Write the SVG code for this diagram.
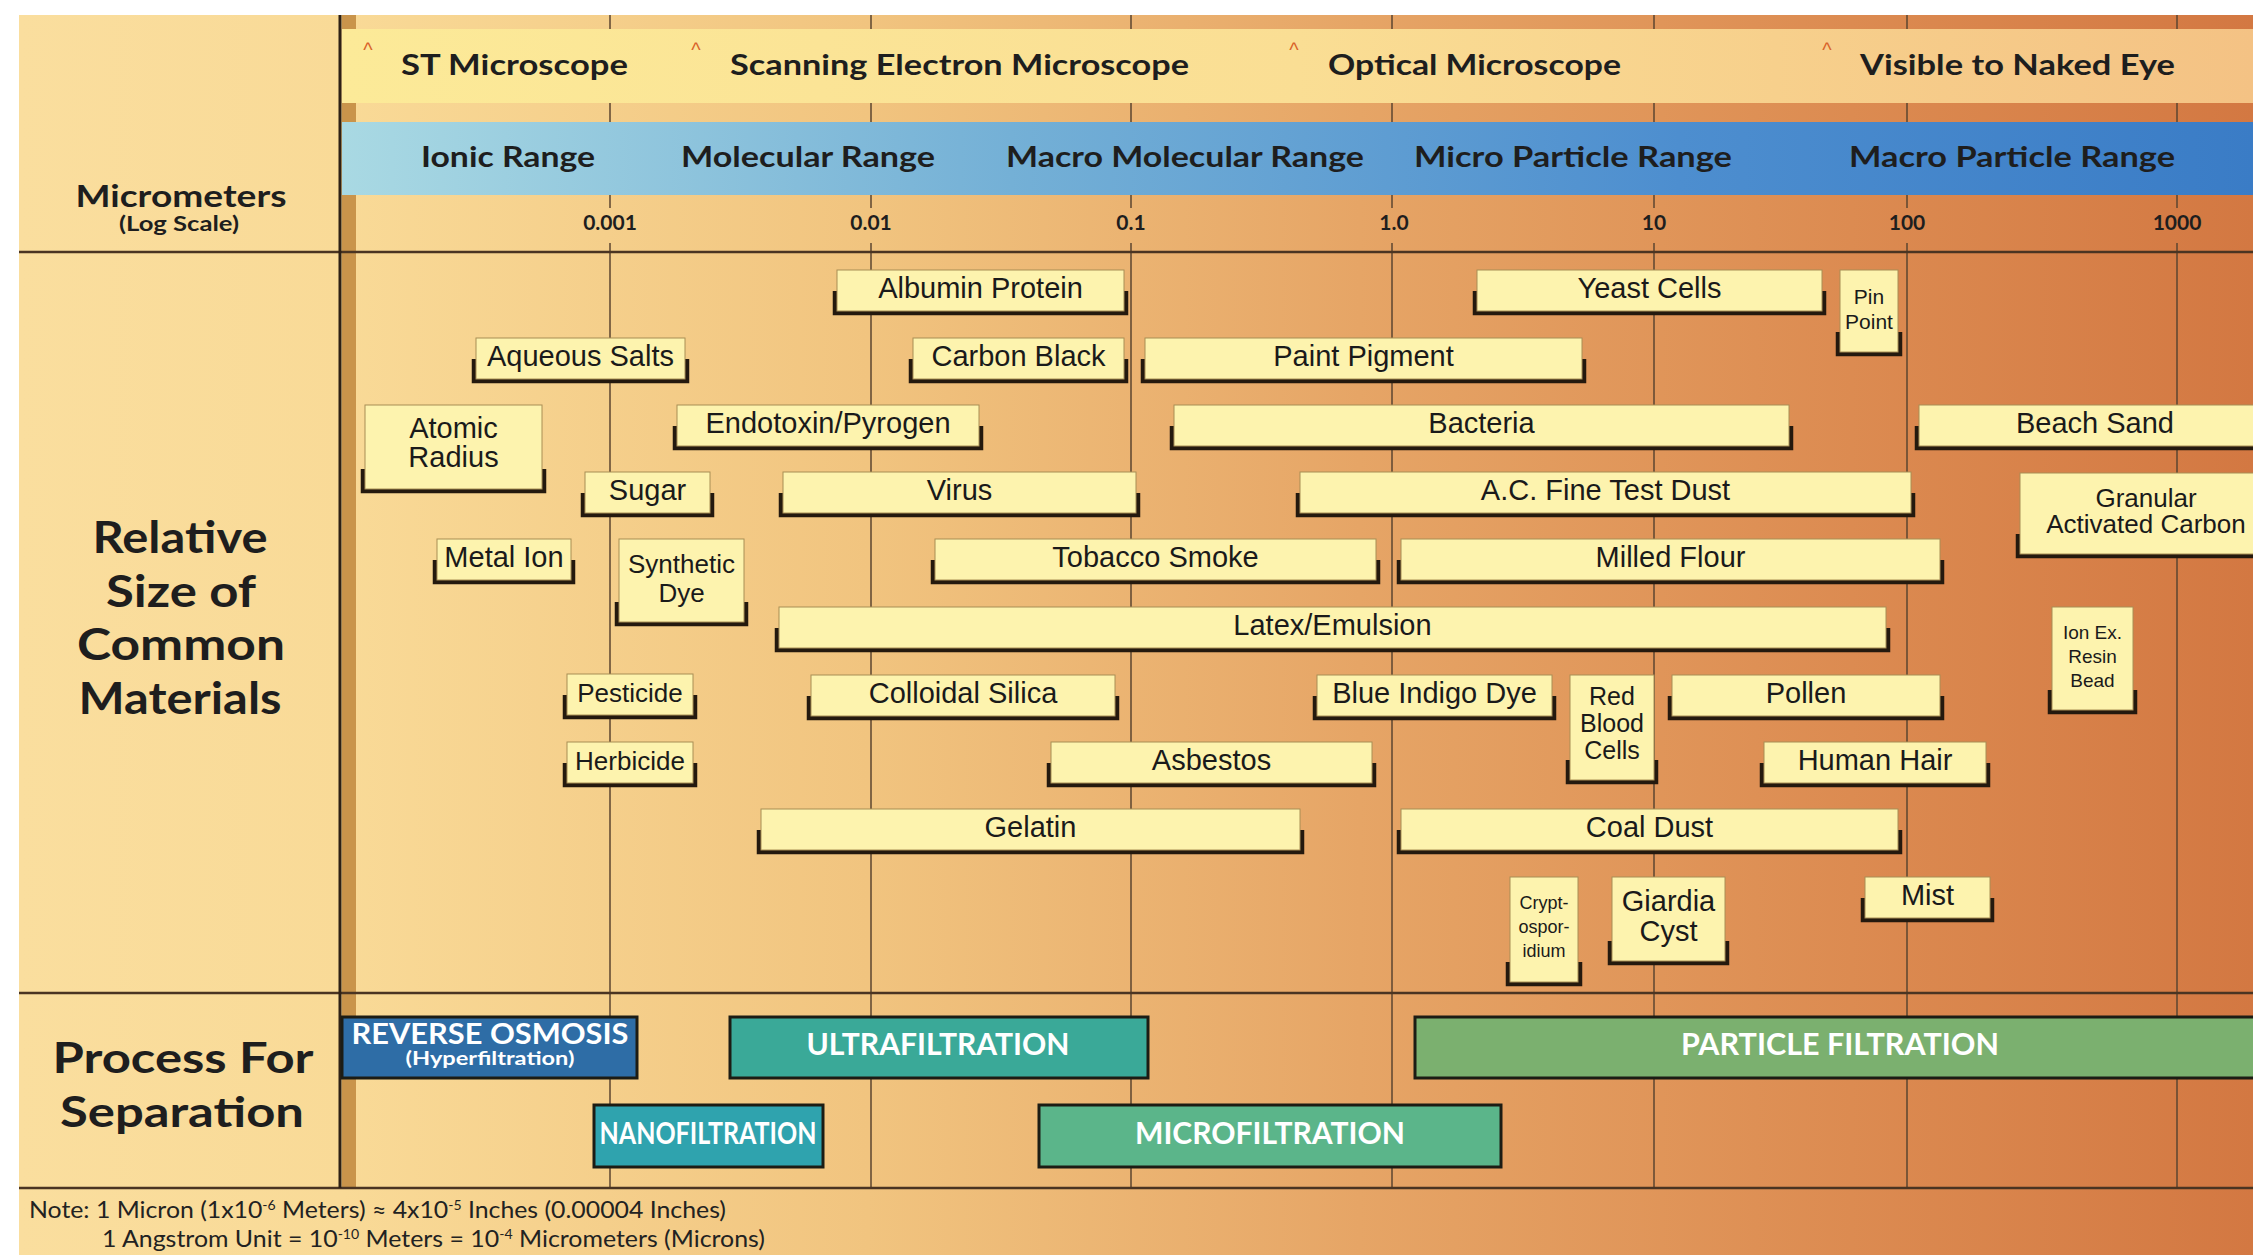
<svg xmlns="http://www.w3.org/2000/svg" width="2253" height="1255" viewBox="0 0 2253 1255">
  <defs>
    <linearGradient id="bg" gradientUnits="userSpaceOnUse" x1="19" y1="0" x2="2253" y2="0">
      <stop offset="0" stop-color="#FADE9E"/>
      <stop offset="0.145" stop-color="#F9DA97"/>
      <stop offset="0.38" stop-color="#F1C47F"/>
      <stop offset="0.6" stop-color="#E6A566"/>
      <stop offset="0.82" stop-color="#DC8B51"/>
      <stop offset="1" stop-color="#D37842"/>
    </linearGradient>
    <linearGradient id="yel" gradientUnits="userSpaceOnUse" x1="342" y1="0" x2="2253" y2="0">
      <stop offset="0" stop-color="#FCEA98"/>
      <stop offset="0.5" stop-color="#FADE94"/>
      <stop offset="1" stop-color="#F4C284"/>
    </linearGradient>
    <linearGradient id="blu" gradientUnits="userSpaceOnUse" x1="342" y1="0" x2="2253" y2="0">
      <stop offset="0" stop-color="#A9D9E3"/>
      <stop offset="0.35" stop-color="#74B0D6"/>
      <stop offset="0.7" stop-color="#4D8ECF"/>
      <stop offset="1" stop-color="#3A7CC6"/>
    </linearGradient>
    <style>
      .grid { stroke:#5C4630; stroke-width:1.5; }
      .rule { stroke:#4A3422; stroke-width:2.5; }
      .hd { font-family:"Lato","Open Sans","DejaVu Sans",sans-serif; font-weight:bold; fill:#1E1E1E; }
      .caret { font-family:"Liberation Sans",Arial,sans-serif; font-size:20px; fill:#D9632A; text-anchor:middle; }
      .box { fill:#FDF3AE; stroke:#A88E55; stroke-width:1; }
      .brk { fill:none; stroke:#24190E; stroke-width:4.5; }
      .lbl { font-family:"Liberation Sans",Arial,sans-serif; font-size:29px; fill:#1A1A1A; text-anchor:middle; }
      .s26 { font-size:26px; }
      .s25 { font-size:25px; }
      .s21 { font-size:21px; }
      .s19 { font-size:19px; }
      .s18 { font-size:18px; }
      .proc { stroke:#1C1C14; stroke-width:3; }
      .ptx { font-family:"Lato","Open Sans","DejaVu Sans",sans-serif; font-weight:bold; fill:#FFFFFF; text-anchor:middle; }
      .note { font-family:"Lato","Open Sans","DejaVu Sans",sans-serif; font-size:23px; fill:#222222; }
    </style>
  </defs>

  <!-- page background -->
  <rect x="0" y="0" width="2253" height="1255" fill="#FFFFFF"/>
  <rect x="19" y="15" width="2234" height="1240" fill="url(#bg)"/>
  <!-- brown strip beside the label column -->
  <rect x="342" y="15" width="14" height="1173" fill="#C9944B"/>

  <!-- decade gridlines -->
  <g id="gridlines">
    <path class="grid" d="M610 15V208M610 243V1188M871 15V208M871 243V1188M1131 15V208M1131 243V1188M1392 15V208M1392 243V1188M1654 15V208M1654 243V1188M1907 15V208M1907 243V1188M2177 15V208M2177 243V1188"/>
  </g>

  <!-- instrument and range bands -->
  <rect x="342" y="29" width="1911" height="74" fill="url(#yel)"/>
  <rect x="342" y="122" width="1911" height="73" fill="url(#blu)"/>

  <!-- section rules -->
  <g id="rules">
    <line class="rule" x1="19" y1="252" x2="2253" y2="252"/>
    <line class="rule" x1="19" y1="993" x2="2253" y2="993" stroke-width="2"/>
    <line class="rule" x1="19" y1="1188" x2="2253" y2="1188" stroke-width="2"/>
    <line x1="340" y1="15" x2="340" y2="1188" stroke="#2E2015" stroke-width="3"/>
  </g>

  <!-- instrument row -->
  <g id="instruments">
    <text class="caret" x="368" y="57">^</text>
    <text class="hd" x="401" y="75" font-size="28" textLength="227" lengthAdjust="spacingAndGlyphs">ST Microscope</text>
    <text class="caret" x="696" y="57">^</text>
    <text class="hd" x="730" y="75" font-size="28" textLength="459" lengthAdjust="spacingAndGlyphs">Scanning Electron Microscope</text>
    <text class="caret" x="1294" y="57">^</text>
    <text class="hd" x="1328" y="75" font-size="28" textLength="293" lengthAdjust="spacingAndGlyphs">Optical Microscope</text>
    <text class="caret" x="1827" y="57">^</text>
    <text class="hd" x="1860" y="75" font-size="28" textLength="315" lengthAdjust="spacingAndGlyphs">Visible to Naked Eye</text>
  </g>

  <!-- size ranges -->
  <g id="ranges">
    <text class="hd" x="421" y="167" font-size="28" textLength="174" lengthAdjust="spacingAndGlyphs">Ionic Range</text>
    <text class="hd" x="681" y="167" font-size="28" textLength="254" lengthAdjust="spacingAndGlyphs">Molecular Range</text>
    <text class="hd" x="1006" y="167" font-size="28" textLength="358" lengthAdjust="spacingAndGlyphs">Macro Molecular Range</text>
    <text class="hd" x="1414" y="167" font-size="28" textLength="318" lengthAdjust="spacingAndGlyphs">Micro Particle Range</text>
    <text class="hd" x="1849" y="167" font-size="28" textLength="326" lengthAdjust="spacingAndGlyphs">Macro Particle Range</text>
  </g>

  <!-- log scale -->
  <g id="scale" class="hd" font-size="21" text-anchor="middle">
    <text x="610" y="230">0.001</text>
    <text x="871" y="230">0.01</text>
    <text x="1131" y="230">0.1</text>
    <text x="1394" y="230">1.0</text>
    <text x="1654" y="230">10</text>
    <text x="1907" y="230">100</text>
    <text x="2177" y="230">1000</text>
  </g>

  <!-- left column headings -->
  <g id="headings" class="hd" text-anchor="middle">
    <text x="181" y="207" font-size="30" textLength="211" lengthAdjust="spacingAndGlyphs">Micrometers</text>
    <text x="179" y="231" font-size="21" textLength="120" lengthAdjust="spacingAndGlyphs">(Log Scale)</text>
    <text x="180" y="553" font-size="43" textLength="175" lengthAdjust="spacingAndGlyphs">Relative</text>
    <text x="181" y="607" font-size="43" textLength="150" lengthAdjust="spacingAndGlyphs">Size of</text>
    <text x="181" y="660" font-size="43" textLength="208" lengthAdjust="spacingAndGlyphs">Common</text>
    <text x="180" y="714" font-size="43" textLength="203" lengthAdjust="spacingAndGlyphs">Materials</text>
    <text x="183" y="1073" font-size="42" textLength="261" lengthAdjust="spacingAndGlyphs">Process For</text>
    <text x="182" y="1127" font-size="42" textLength="244" lengthAdjust="spacingAndGlyphs">Separation</text>
  </g>

  <!-- material size ranges -->
  <g id="albumin-protein"><path class="brk" d="M835 291V313H1126V291"/><rect class="box" x="837" y="270" width="287" height="41"/><text class="lbl" x="980.5" y="298">Albumin Protein</text></g>
  <g id="yeast-cells"><path class="brk" d="M1475 291V313H1824V291"/><rect class="box" x="1477" y="270" width="345" height="41"/><text class="lbl" x="1649.5" y="298">Yeast Cells</text></g>
  <g id="pin-point"><path class="brk" d="M1838 332V354H1900V332"/><rect class="box" x="1840" y="270" width="58" height="82"/><text class="lbl s21" x="1869" y="304">Pin</text><text class="lbl s21" x="1869" y="329">Point</text></g>

  <g id="aqueous-salts"><path class="brk" d="M474 359V381H687V359"/><rect class="box" x="476" y="338" width="209" height="41"/><text class="lbl" x="580.5" y="366">Aqueous Salts</text></g>
  <g id="carbon-black"><path class="brk" d="M911 359V381H1126V359"/><rect class="box" x="913" y="338" width="211" height="41"/><text class="lbl" x="1018.5" y="366">Carbon Black</text></g>
  <g id="paint-pigment"><path class="brk" d="M1143 359V381H1584V359"/><rect class="box" x="1145" y="338" width="437" height="41"/><text class="lbl" x="1363.5" y="366">Paint Pigment</text></g>

  <g id="atomic-radius"><path class="brk" d="M363 469V491H544V469"/><rect class="box" x="365" y="405" width="177" height="84"/><text class="lbl" x="453.5" y="438">Atomic</text><text class="lbl" x="453.5" y="467">Radius</text></g>
  <g id="endotoxin-pyrogen"><path class="brk" d="M675 426V448H981V426"/><rect class="box" x="677" y="405" width="302" height="41"/><text class="lbl" x="828" y="433">Endotoxin/Pyrogen</text></g>
  <g id="bacteria"><path class="brk" d="M1172 426V448H1791V426"/><rect class="box" x="1174" y="405" width="615" height="41"/><text class="lbl" x="1481.5" y="433">Bacteria</text></g>
  <g id="beach-sand"><path class="brk" d="M1917 426V448H2272V426"/><rect class="box" x="1919" y="405" width="351" height="41"/><text class="lbl" x="2095" y="433">Beach Sand</text></g>

  <g id="sugar"><path class="brk" d="M583 493V515H712V493"/><rect class="box" x="585" y="472" width="125" height="41"/><text class="lbl" x="647.5" y="500">Sugar</text></g>
  <g id="virus"><path class="brk" d="M781 493V515H1138V493"/><rect class="box" x="783" y="472" width="353" height="41"/><text class="lbl" x="959.5" y="500">Virus</text></g>
  <g id="ac-fine-test-dust"><path class="brk" d="M1298 493V515H1913V493"/><rect class="box" x="1300" y="472" width="611" height="41"/><text class="lbl" x="1605.5" y="500">A.C. Fine Test Dust</text></g>
  <g id="granular-activated-carbon"><path class="brk" d="M2018 534V556H2276V534"/><rect class="box" x="2020" y="473" width="254" height="81"/><text class="lbl s26" x="2146" y="507">Granular</text><text class="lbl s26" x="2146" y="533">Activated Carbon</text></g>

  <g id="metal-ion"><path class="brk" d="M435 560V582H573V560"/><rect class="box" x="437" y="539" width="134" height="41"/><text class="lbl" x="504" y="567">Metal Ion</text></g>
  <g id="synthetic-dye"><path class="brk" d="M617 602V624H746V602"/><rect class="box" x="619" y="539" width="125" height="83"/><text class="lbl s26" x="681.5" y="573">Synthetic</text><text class="lbl s26" x="681.5" y="602">Dye</text></g>
  <g id="tobacco-smoke"><path class="brk" d="M933 560V582H1378V560"/><rect class="box" x="935" y="539" width="441" height="41"/><text class="lbl" x="1155.5" y="567">Tobacco Smoke</text></g>
  <g id="milled-flour"><path class="brk" d="M1399 560V582H1942V560"/><rect class="box" x="1401" y="539" width="539" height="41"/><text class="lbl" x="1670.5" y="567">Milled Flour</text></g>

  <g id="latex-emulsion"><path class="brk" d="M777 628V650H1888V628"/><rect class="box" x="779" y="607" width="1107" height="41"/><text class="lbl" x="1332.5" y="635">Latex/Emulsion</text></g>
  <g id="ion-exchange-resin-bead"><path class="brk" d="M2050 690V712H2135V690"/><rect class="box" x="2052" y="607" width="81" height="103"/><text class="lbl s19" x="2092.5" y="639">Ion Ex.</text><text class="lbl s19" x="2092.5" y="663">Resin</text><text class="lbl s19" x="2092.5" y="687">Bead</text></g>

  <g id="pesticide"><path class="brk" d="M565 695V717H695V695"/><rect class="box" x="567" y="674" width="126" height="41"/><text class="lbl s26" x="630" y="702">Pesticide</text></g>
  <g id="colloidal-silica"><path class="brk" d="M809 696V718H1117V696"/><rect class="box" x="811" y="675" width="304" height="41"/><text class="lbl" x="963" y="703">Colloidal Silica</text></g>
  <g id="blue-indigo-dye"><path class="brk" d="M1315 696V718H1554V696"/><rect class="box" x="1317" y="675" width="235" height="41"/><text class="lbl" x="1434.5" y="703">Blue Indigo Dye</text></g>
  <g id="red-blood-cells"><path class="brk" d="M1568 760V782H1656V760"/><rect class="box" x="1570" y="675" width="84" height="105"/><text class="lbl s25" x="1612" y="705">Red</text><text class="lbl s25" x="1612" y="732">Blood</text><text class="lbl s25" x="1612" y="759">Cells</text></g>
  <g id="pollen"><path class="brk" d="M1670 696V718H1942V696"/><rect class="box" x="1672" y="675" width="268" height="41"/><text class="lbl" x="1806" y="703">Pollen</text></g>

  <g id="herbicide"><path class="brk" d="M565 763V785H695V763"/><rect class="box" x="567" y="742" width="126" height="41"/><text class="lbl s26" x="630" y="770">Herbicide</text></g>
  <g id="asbestos"><path class="brk" d="M1049 763V785H1374V763"/><rect class="box" x="1051" y="742" width="321" height="41"/><text class="lbl" x="1211.5" y="770">Asbestos</text></g>
  <g id="human-hair"><path class="brk" d="M1762 763V785H1988V763"/><rect class="box" x="1764" y="742" width="222" height="41"/><text class="lbl" x="1875" y="770">Human Hair</text></g>

  <g id="gelatin"><path class="brk" d="M759 830V852H1302V830"/><rect class="box" x="761" y="809" width="539" height="41"/><text class="lbl" x="1030.5" y="837">Gelatin</text></g>
  <g id="coal-dust"><path class="brk" d="M1399 830V852H1900V830"/><rect class="box" x="1401" y="809" width="497" height="41"/><text class="lbl" x="1649.5" y="837">Coal Dust</text></g>

  <g id="cryptosporidium"><path class="brk" d="M1508 962V984H1580V962"/><rect class="box" x="1510" y="877" width="68" height="105"/><text class="lbl s18" x="1544" y="909">Crypt-</text><text class="lbl s18" x="1544" y="933">ospor-</text><text class="lbl s18" x="1544" y="957">idium</text></g>
  <g id="giardia-cyst"><path class="brk" d="M1610 941V963H1727V941"/><rect class="box" x="1612" y="877" width="113" height="84"/><text class="lbl" x="1668.5" y="911">Giardia</text><text class="lbl" x="1668.5" y="941">Cyst</text></g>
  <g id="mist"><path class="brk" d="M1863 898V920H1992V898"/><rect class="box" x="1865" y="877" width="125" height="41"/><text class="lbl" x="1927.5" y="905">Mist</text></g>

  <!-- separation processes -->
  <g id="reverse-osmosis"><rect class="proc" x="342" y="1017" width="295" height="61" fill="#2E6DA6"/><text class="ptx" x="490" y="1044" font-size="28" textLength="277" lengthAdjust="spacingAndGlyphs">REVERSE OSMOSIS</text><text class="ptx" x="490" y="1065" font-size="18" textLength="169" lengthAdjust="spacingAndGlyphs">(Hyperfiltration)</text></g>
  <g id="ultrafiltration"><rect class="proc" x="730" y="1017" width="418" height="61" fill="#3AA998"/><text class="ptx" x="938" y="1055" font-size="31" textLength="263" lengthAdjust="spacingAndGlyphs">ULTRAFILTRATION</text></g>
  <g id="particle-filtration"><rect class="proc" x="1415" y="1017" width="860" height="61" fill="#7BB06F"/><text class="ptx" x="1840" y="1055" font-size="31" textLength="318" lengthAdjust="spacingAndGlyphs">PARTICLE FILTRATION</text></g>
  <g id="nanofiltration"><rect class="proc" x="594" y="1105" width="229" height="62" fill="#2FA3AE"/><text class="ptx" x="708" y="1144" font-size="31" textLength="217" lengthAdjust="spacingAndGlyphs">NANOFILTRATION</text></g>
  <g id="microfiltration"><rect class="proc" x="1039" y="1105" width="462" height="62" fill="#5BB58A"/><text class="ptx" x="1270" y="1144" font-size="31" textLength="270" lengthAdjust="spacingAndGlyphs">MICROFILTRATION</text></g>

  <!-- footnote -->
  <g id="footnote">
    <text class="note" x="29" y="1218" textLength="697" lengthAdjust="spacingAndGlyphs">Note: 1 Micron (1x10<tspan font-size="13" baseline-shift="super">-6</tspan> Meters) ≈ 4x10<tspan font-size="13" baseline-shift="super">-5</tspan> Inches (0.00004 Inches)</text>
    <text class="note" x="102" y="1247" textLength="663" lengthAdjust="spacingAndGlyphs">1 Angstrom Unit = 10<tspan font-size="13" baseline-shift="super">-10</tspan> Meters = 10<tspan font-size="13" baseline-shift="super">-4</tspan> Micrometers (Microns)</text>
  </g>
</svg>
